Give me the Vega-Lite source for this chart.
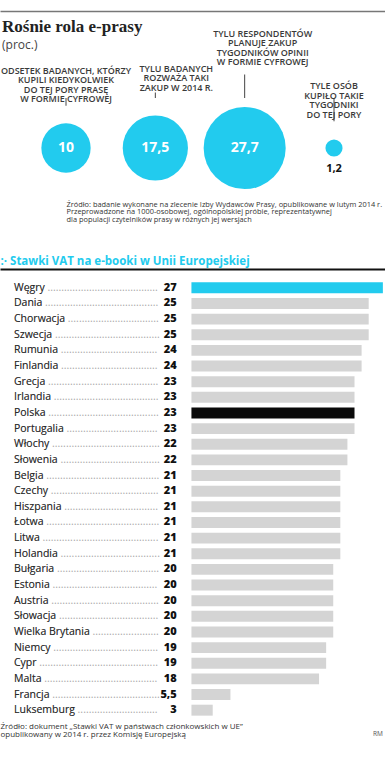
{
  "$schema": "https://vega.github.io/schema/vega-lite/v6.json",
  "padding": {"left": 0, "top": 10, "right": 0, "bottom": 0},
  "bounds": "flush",
  "spacing": 82,
  "config": {
    "view": {"stroke": null},
    "font": "Open Sans",
    "locale": {"number": {"decimal": ",", "thousands": " ", "grouping": [3], "currency": ["", " zł"]}}
  },
  "vconcat": [
    {
      "width": 385,
      "height": 5,
      "data": {"values": [{"v": 0}]},
      "mark": {"type": "point", "opacity": 0},
      "encoding": {
        "x": {"field": "v", "type": "quantitative", "axis": {"orient": "top", "labels": false, "ticks": false, "grid": false, "domainColor": "#777777", "domainWidth": 1.5, "title": null}}
      },
      "title": {
        "text": "Rośnie rola e-prasy",
        "subtitle": "(proc.)",
        "orient": "bottom",
        "anchor": "start",
        "dx": 2,
        "offset": 3,
        "font": "Liberation Serif",
        "fontSize": 17,
        "fontWeight": "bold",
        "color": "#222222",
        "subtitleFont": "Open Sans",
        "subtitleFontSize": 12,
        "subtitleColor": "#444444",
        "subtitlePadding": 4
      }
    },
    {
      "width": 385,
      "height": 100,
      "data": {"values": [
        {"id": "1", "value": 10, "label": "ODSETEK BADANYCH, KTÓRZY\nKUPILI KIEDYKOLWIEK\nDO TEJ PORY PRASĘ\nW FORMIE CYFROWEJ"},
        {"id": "2", "value": 17.5, "label": "TYLU BADANYCH\nROZWAŻA TAKI\nZAKUP W 2014 R."},
        {"id": "3", "value": 27.7, "label": "TYLU RESPONDENTÓW\nPLANUJE ZAKUP\nTYGODNIKÓW OPINII\nW FORMIE CYFROWEJ"},
        {"id": "4", "value": 1.2, "label": "TYLE OSÓB\nKUPIŁO TAKIE\nTYGODNIKI\nDO TEJ PORY"}
      ]},
      "encoding": {
        "x": {
          "field": "id", "type": "nominal", "sort": null,
          "scale": {"type": "point", "range": [66, 334], "padding": 0},
          "axis": {
            "orient": "bottom", "labels": false, "ticks": false, "domain": false, "grid": false,
            "title": ["Źródło: badanie wykonane na zlecenie Izby Wydawców Prasy, opublikowane w lutym 2014 r.", "Przeprowadzone na 1000-osobowej, ogólnopolskiej próbie, reprezentatywnej", "dla populacji czytelników prasy w różnych jej wersjach"],
            "titleAnchor": "start", "titleAlign": "left", "titleBaseline": "top",
            "titleFont": "Open Sans", "titleFontSize": 7.4, "titleFontWeight": "normal", "titleColor": "#333333",
            "titleLineHeight": 7.8, "titlePadding": 2
          }
        }
      },
      "layer": [
        {
          "mark": {"type": "rule", "color": "#444444", "strokeWidth": 1},
          "encoding": {
            "y": {"field": "value", "type": "quantitative", "scale": {"domain": [0, 27.7], "range": [25.4, -23.5]}, "axis": null},
            "y2": {"value": {"expr": "height/2"}}
          }
        },
        {
          "mark": {"type": "circle", "opacity": 1, "color": "#22cbee"},
          "encoding": {
            "size": {"field": "value", "type": "quantitative", "scale": {"domain": [0, 27.7], "range": [0, 6735]}, "legend": null}
          }
        },
        {
          "transform": [{"filter": "datum.value >= 5"}],
          "mark": {"type": "text", "color": "#ffffff", "fontSize": 14, "fontWeight": "bold", "font": "Open Sans"},
          "encoding": {"text": {"field": "value", "type": "quantitative", "format": ".1~f"}}
        },
        {
          "transform": [{"filter": "datum.value < 5"}],
          "mark": {"type": "text", "color": "#111111", "fontSize": 11, "fontWeight": "bold", "font": "Open Sans", "dy": 21},
          "encoding": {"text": {"field": "value", "type": "quantitative", "format": ".1~f"}}
        },
        {
          "transform": [{"filter": "datum.id == '1' || datum.id == '4'"}],
          "mark": {"type": "text", "lineBreak": "\n", "lineHeight": 9.5, "baseline": "alphabetic", "dy": -32, "fontSize": 9, "fontWeight": 600, "color": "#3a3a3a"},
          "encoding": {
            "y": {"field": "value", "type": "quantitative", "scale": {"domain": [0, 27.7], "range": [25.4, -23.5]}, "axis": null},
            "text": {"field": "label"}
          }
        },
        {
          "transform": [{"filter": "datum.id == '2'"}],
          "mark": {"type": "text", "lineBreak": "\n", "lineHeight": 9.5, "baseline": "alphabetic", "dy": -21, "dx": 21, "fontSize": 9, "fontWeight": 600, "color": "#3a3a3a"},
          "encoding": {
            "y": {"field": "value", "type": "quantitative", "scale": {"domain": [0, 27.7], "range": [25.4, -23.5]}, "axis": null},
            "text": {"field": "label"}
          }
        },
        {
          "transform": [{"filter": "datum.id == '3'"}],
          "mark": {"type": "text", "lineBreak": "\n", "lineHeight": 9.5, "baseline": "alphabetic", "dy": -38, "dx": 18, "fontSize": 9, "fontWeight": 600, "color": "#3a3a3a"},
          "encoding": {
            "y": {"field": "value", "type": "quantitative", "scale": {"domain": [0, 27.7], "range": [25.4, -23.5]}, "axis": null},
            "text": {"field": "label"}
          }
        }
      ]
    },
    {
      "width": 385,
      "height": 438,
      "data": {"values": [
        {"country": "Węgry", "rate": 27},
        {"country": "Dania", "rate": 25},
        {"country": "Chorwacja", "rate": 25},
        {"country": "Szwecja", "rate": 25},
        {"country": "Rumunia", "rate": 24},
        {"country": "Finlandia", "rate": 24},
        {"country": "Grecja", "rate": 23},
        {"country": "Irlandia", "rate": 23},
        {"country": "Polska", "rate": 23},
        {"country": "Portugalia", "rate": 23},
        {"country": "Włochy", "rate": 22},
        {"country": "Słowenia", "rate": 22},
        {"country": "Belgia", "rate": 21},
        {"country": "Czechy", "rate": 21},
        {"country": "Hiszpania", "rate": 21},
        {"country": "Łotwa", "rate": 21},
        {"country": "Litwa", "rate": 21},
        {"country": "Holandia", "rate": 21},
        {"country": "Bułgaria", "rate": 20},
        {"country": "Estonia", "rate": 20},
        {"country": "Austria", "rate": 20},
        {"country": "Słowacja", "rate": 20},
        {"country": "Wielka Brytania", "rate": 20},
        {"country": "Niemcy", "rate": 19},
        {"country": "Cypr", "rate": 19},
        {"country": "Malta", "rate": 18},
        {"country": "Francja", "rate": 5.5},
        {"country": "Luksemburg", "rate": 3}
      ]},
      "encoding": {
        "y": {"field": "country", "type": "nominal", "sort": null, "axis": null, "scale": {"paddingInner": 0.3, "paddingOuter": 0.15}}
      },
      "layer": [
        {
          "mark": {"type": "bar"},
          "encoding": {
            "x": {
              "field": "rate", "type": "quantitative",
              "scale": {"domain": [-27, 27.3], "nice": false, "zero": false},
              "axis": {
                "orient": "top", "offset": 11, "labels": false, "ticks": false, "grid": false,
                "domainColor": "#111111", "domainWidth": 2,
                "title": ":· Stawki VAT na e-booki w Unii Europejskiej",
                "titleAnchor": "start", "titleAlign": "left",
                "titleFont": "Open Sans", "titleFontSize": 11.5, "titleFontWeight": "bold", "titleColor": "#22cbee",
                "titlePadding": 3
              }
            },
            "x2": {"datum": 0},
            "color": {
              "condition": [
                {"test": "datum.country === 'Węgry'", "value": "#22cbee"},
                {"test": "datum.country === 'Polska'", "value": "#0a0a0a"}
              ],
              "value": "#d4d4d4"
            }
          }
        },
        {
          "transform": [{"calculate": "datum.country + ' ' + '......................................................................'", "as": "lead"}],
          "mark": {"type": "text", "align": "left", "baseline": "middle", "fontSize": 10.5, "color": "#a8a8a8", "limit": 146, "ellipsis": "."},
          "encoding": {
            "x": {"datum": -25.03, "type": "quantitative", "axis": null},
            "text": {"field": "lead"}
          }
        },
        {
          "mark": {"type": "text", "align": "left", "baseline": "middle", "fontSize": 10.5, "color": "#2a2a2a"},
          "encoding": {
            "x": {"datum": -25.03, "type": "quantitative", "axis": null},
            "text": {"field": "country"}
          }
        },
        {
          "mark": {"type": "text", "align": "right", "baseline": "middle", "fontSize": 11, "fontWeight": 800, "color": "#111111"},
          "encoding": {
            "x": {"datum": -2.08, "type": "quantitative", "axis": null},
            "text": {"field": "rate", "type": "quantitative", "format": ".1~f"}
          }
        },
        {
          "data": {"values": [{"t": "RM"}]},
          "mark": {"type": "text", "align": "right", "baseline": "middle", "fontSize": 6.5, "color": "#555555", "dy": 24},
          "encoding": {
            "x": {
              "datum": 27.0, "type": "quantitative",
              "axis": {
                "orient": "bottom", "labels": false, "ticks": false, "domain": false, "grid": false,
                "title": ["Źródło: dokument „Stawki VAT w państwach członkowskich w UE”", "opublikowany w 2014 r. przez Komisję Europejską"],
                "titleAnchor": "start", "titleAlign": "left", "titleBaseline": "top",
                "titleFont": "Open Sans", "titleFontSize": 8, "titleFontWeight": "normal", "titleColor": "#333333",
                "titleLineHeight": 8.5, "titlePadding": 4
              }
            },
            "y": {"datum": "Luksemburg", "type": "nominal"},
            "text": {"field": "t"}
          }
        }
      ],
      "resolve": {"axis": {"x": "independent"}}
    }
  ]
}
